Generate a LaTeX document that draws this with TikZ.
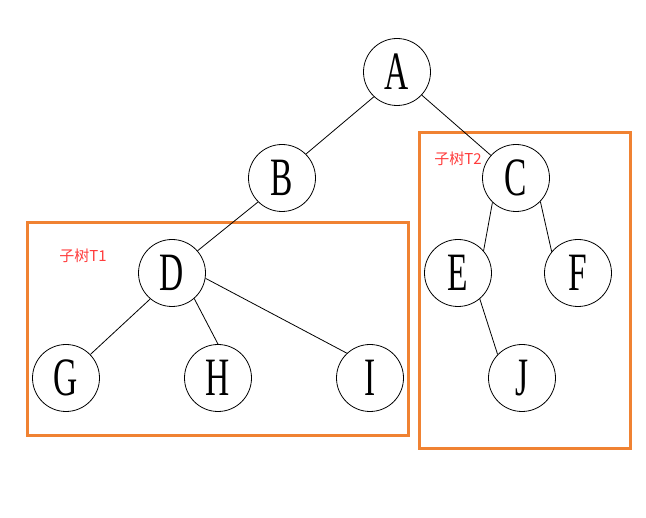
\documentclass[tikz,border=0pt]{standalone}
\usepackage{fontspec}
\setmainfont{Liberation Serif}
\newfontfamily\cjk{Noto Sans CJK SC}
\begin{document}
\begin{tikzpicture}[x=1pt,y=-1pt,
  treenode/.style={circle,draw=black,line width=0.8pt,minimum size=67pt,inner sep=0pt,
    font=\fontsize{54}{54}\selectfont},
  edge/.style={draw=black,line width=0.8pt},
  subtree/.style={draw={rgb,255:red,240;green,130;blue,50},line width=3pt},
  tag/.style={text={rgb,255:red,255;green,60;blue,60},font=\cjk\fontsize{15}{15}\selectfont,inner sep=0pt}]
\useasboundingbox (0,0) rectangle (646,518);
\newcommand{\nl}[1]{\scalebox{0.62}[1]{#1}}
% subtree frames
\draw[subtree] (27,223) rectangle (408,436);
\draw[subtree] (419,133) rectangle (630,449);
\node[tag] (t1) at (83,256) {子树T1};
\node[tag] (t2) at (458,159) {子树T2};
% tree nodes
\node[treenode] (A) at (397,72) {\nl{A}};
\node[treenode] (B) at (282,178) {\nl{B}};
\node[treenode] (C) at (516,178) {\nl{C}};
\node[treenode] (D) at (172,273) {\nl{D}};
\node[treenode] (E) at (458,273) {\nl{E}};
\node[treenode] (F) at (578,273) {\nl{F}};
\node[treenode] (G) at (66,378) {\nl{G}};
\node[treenode] (H) at (218,378) {\nl{H}};
\node[treenode] (I) at (370,378) {\nl{I}};
\node[treenode] (J) at (522,378) {\nl{J}};
% edges, each between fixed points on the rims
\draw[edge] (A.-133) -- (B.45);
\draw[edge] (A.-43) -- (C.138);
\draw[edge] (B.-135) -- (D.41);
\draw[edge] (D.-130) -- (G.44);
\draw[edge] (D.-49) -- (H.90);
\draw[edge] (D.-9) -- (I.133);
\draw[edge] (C.-134) -- (E.41);
\draw[edge] (C.-44) -- (F.141);
\draw[edge] (E.-50) -- (J.136);
\end{tikzpicture}
\end{document}
